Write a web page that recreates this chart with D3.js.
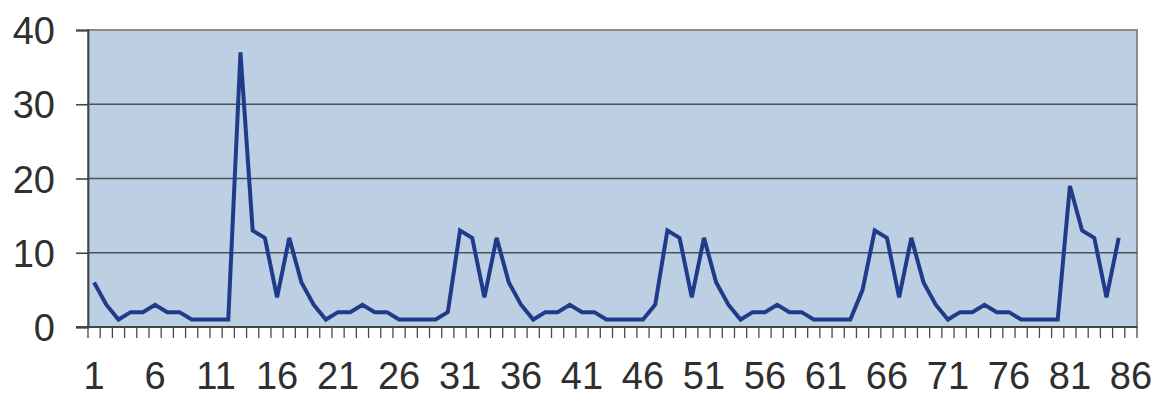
<!DOCTYPE html>
<html>
<head>
<meta charset="utf-8">
<script src="https://cdn.jsdelivr.net/npm/d3@7/dist/d3.min.js"></script>
<style>
  body { margin: 0; background: #ffffff; }
  svg text { font-family: "Liberation Sans", Arial, sans-serif; fill: #2f2f2f; }
</style>
</head>
<body>
<svg id="chart" width="1157" height="402"></svg>
<script>
// Category positions along the x axis
const categories = [
  1, 2, 3, 4, 5, 6, 7, 8, 9, 10, 11, 12, 13, 14, 15, 16, 17, 18, 19, 20,
  21, 22, 23, 24, 25, 26, 27, 28, 29, 30, 31, 32, 33, 34, 35, 36, 37, 38, 39, 40,
  41, 42, 43, 44, 45, 46, 47, 48, 49, 50, 51, 52, 53, 54, 55, 56, 57, 58, 59, 60,
  61, 62, 63, 64, 65, 66, 67, 68, 69, 70, 71, 72, 73, 74, 75, 76, 77, 78, 79, 80,
  81, 82, 83, 84, 85, 86
];

// Series values (one per category, the last category has no value)
const values = [
  6, 3, 1, 2, 2, 3, 2, 2, 1, 1, 1, 1, 37, 13, 12, 4, 12, 6, 3, 1,
  2, 2, 3, 2, 2, 1, 1, 1, 1, 2, 13, 12, 4, 12, 6, 3, 1, 2, 2, 3,
  2, 2, 1, 1, 1, 1, 3, 13, 12, 4, 12, 6, 3, 1, 2, 2, 3, 2, 2, 1,
  1, 1, 1, 5, 13, 12, 4, 12, 6, 3, 1, 2, 2, 3, 2, 2, 1, 1, 1, 1,
  19, 13, 12, 4, 12
];

const yTickValues = [0, 10, 20, 30, 40];
const xTickLabels = [1, 6, 11, 16, 21, 26, 31, 36, 41, 46, 51, 56, 61, 66, 71, 76, 81, 86];

const svg = d3.select("#chart");
const plot = { left: 88, right: 1137, top: 30, bottom: 327 };

const x = d3.scaleBand()
  .domain(categories)
  .range([plot.left, plot.right])
  .padding(0);

const y = d3.scaleLinear()
  .domain([0, 40])
  .range([plot.bottom, plot.top]);

// Plot area background
svg.append("rect")
  .attr("x", plot.left)
  .attr("y", plot.top)
  .attr("width", plot.right - plot.left)
  .attr("height", plot.bottom - plot.top)
  .attr("fill", "#bccfe3")
  .attr("stroke", "#8a8a8a")
  .attr("stroke-width", 2);

// Horizontal gridlines
svg.append("g")
  .selectAll("line")
  .data(yTickValues.filter(v => v > 0 && v < 40))
  .join("line")
  .attr("x1", plot.left)
  .attr("x2", plot.right)
  .attr("y1", d => y(d))
  .attr("y2", d => y(d))
  .attr("stroke", "#505050")
  .attr("stroke-width", 1.3);

// Y axis
const yAxis = svg.append("g")
  .attr("transform", `translate(${plot.left},0)`)
  .call(d3.axisLeft(y).tickValues(yTickValues).tickSize(12).tickPadding(21));
yAxis.select(".domain").attr("stroke", "#454545").attr("stroke-width", 1.8);
yAxis.selectAll(".tick line").attr("stroke", "#454545").attr("stroke-width", 1.6);
yAxis.selectAll(".tick text")
  .attr("dy", "0.36em")
  .attr("font-size", 38)
  .style("fill", "#2f2f2f");

// X axis line and tick marks at category boundaries
const boundaries = categories.map(c => x(c)).concat([plot.right]);
const xTickG = svg.append("g");
xTickG.append("line")
  .attr("x1", plot.left - 12)
  .attr("x2", plot.right)
  .attr("y1", plot.bottom)
  .attr("y2", plot.bottom)
  .attr("stroke", "#454545")
  .attr("stroke-width", 1.8);
xTickG.selectAll("line.tk")
  .data(boundaries)
  .join("line")
  .attr("class", "tk")
  .attr("x1", d => d)
  .attr("x2", d => d)
  .attr("y1", plot.bottom)
  .attr("y2", plot.bottom + 11)
  .attr("stroke", "#4a4a4a")
  .attr("stroke-width", 1.3);

// X axis labels
const xAxis = svg.append("g")
  .attr("transform", `translate(0,${plot.bottom})`)
  .call(d3.axisBottom(x).tickValues(xTickLabels).tickSize(0));
xAxis.select(".domain").remove();
xAxis.selectAll(".tick text")
  .attr("y", 62)
  .attr("dy", 0)
  .attr("font-size", 38)
  .style("fill", "#2f2f2f");

// Data line
const line = d3.line()
  .x((d, i) => x(categories[i]) + x.bandwidth() / 2)
  .y(d => y(d));

svg.append("path")
  .datum(values)
  .attr("fill", "none")
  .attr("stroke", "#213b8b")
  .attr("stroke-width", 4)
  .attr("stroke-linejoin", "miter")
  .attr("d", line);
</script>
</body>
</html>
